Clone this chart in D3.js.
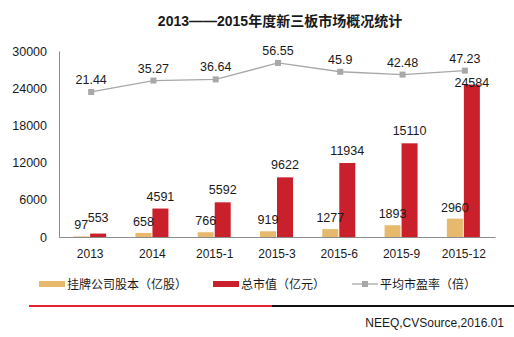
<!DOCTYPE html>
<html>
<head>
  <meta charset="utf-8">
  <title>新三板市场概况</title>
  <style>
    body { margin: 0; background: #fff; }
    text { font-family: "Liberation Sans", Arial, "Noto Sans CJK SC", sans-serif; fill: #1a1a1a; }
  </style>
</head>
<body>
  <svg id="chart"></svg>

  <script src="https://d3js.org/d3.v7.min.js"></script>
  <script>
    // data
    const categories = ['2013', '2014', '2015-1', '2015-3', '2015-6', '2015-9', '2015-12'];
    const shareCapital = [97, 658, 766, 919, 1277, 1893, 2960];       // 挂牌公司股本（亿股）
    const marketValue = [553, 4591, 5592, 9622, 11934, 15110, 24584]; // 总市值（亿元）
    const peRatio = [21.44, 35.27, 36.64, 56.55, 45.9, 42.48, 47.23];  // 平均市盈率（倍）
    const yTicks = [0, 6000, 12000, 18000, 24000, 30000];

    const width = 514, height = 337;
    const beige = '#e6b96c', red = '#c9202b', grey = '#a8a8a8';

    const svg = d3.select('#chart')
      .attr('width', width)
      .attr('height', height);

    // title
    svg.append('text')
      .attr('x', 280)
      .attr('y', 26)
      .attr('text-anchor', 'middle')
      .style('font-size', '14px')
      .style('font-weight', 'bold')
      .text('2013——2015年度新三板市场概况统计');

    // scales
    const x = d3.scaleBand().domain(categories).range([59, 495]);
    const y = d3.scaleLinear().domain([0, 30000]).range([237, 51]);
    // hidden secondary axis for the P/E line
    const y2 = d3.scaleLinear().domain([-154, 71]).range([237, 51]);
    const barW = 16;
    const cx = d => x(d) + x.bandwidth() / 2;

    // y axis
    const yAxis = svg.append('g')
      .attr('transform', 'translate(59,0)')
      .call(d3.axisLeft(y).tickValues(yTicks).tickFormat(d3.format('d')).tickSize(0).tickPadding(12));
    yAxis.select('.domain').attr('stroke', '#8c8c8c');
    yAxis.selectAll('text')
      .style('font-size', '12.5px')
      .attr('fill', '#1a1a1a')
      .attr('font-family', null);

    // x axis
    const xAxis = svg.append('g')
      .attr('transform', 'translate(0,237)')
      .call(d3.axisBottom(x).tickSize(0).tickPadding(12));
    xAxis.select('.domain').attr('stroke', '#8c8c8c');
    xAxis.selectAll('text')
      .style('font-size', '12px')
      .attr('fill', '#1a1a1a')
      .attr('font-family', null);

    // bars
    svg.selectAll('.bar-share')
      .data(shareCapital)
      .enter()
      .append('rect')
      .attr('class', 'bar-share')
      .attr('x', (d, i) => cx(categories[i]) - barW - 1)
      .attr('y', d => y(d))
      .attr('width', barW)
      .attr('height', d => y(0) - y(d))
      .attr('fill', beige);

    svg.selectAll('.bar-value')
      .data(marketValue)
      .enter()
      .append('rect')
      .attr('class', 'bar-value')
      .attr('x', (d, i) => cx(categories[i]))
      .attr('y', d => y(d))
      .attr('width', barW)
      .attr('height', d => y(0) - y(d))
      .attr('fill', red);

    // P/E line
    const line = d3.line()
      .x((d, i) => cx(categories[i]) + 1)
      .y(d => y2(d));

    svg.append('path')
      .datum(peRatio)
      .attr('d', line)
      .attr('fill', 'none')
      .attr('stroke', grey)
      .attr('stroke-width', 1.3);

    svg.selectAll('.pe-marker')
      .data(peRatio)
      .enter()
      .append('rect')
      .attr('class', 'pe-marker')
      .attr('x', (d, i) => cx(categories[i]) + 1 - 3)
      .attr('y', d => y2(d) - 3)
      .attr('width', 6)
      .attr('height', 6)
      .attr('fill', grey);

    // labels
    svg.selectAll('.lbl-pe')
      .data(peRatio)
      .enter()
      .append('text')
      .attr('class', 'lbl-pe')
      .attr('x', (d, i) => cx(categories[i]) + 1)
      .attr('y', d => y2(d) - 8)
      .attr('text-anchor', 'middle')
      .style('font-size', '12.5px')
      .text(d => d);

    svg.selectAll('.lbl-share')
      .data(shareCapital)
      .enter()
      .append('text')
      .attr('class', 'lbl-share')
      .attr('x', (d, i) => cx(categories[i]) - barW / 2 - 1)
      .attr('y', d => Math.min(y(d) - 7, 232))
      .attr('text-anchor', 'middle')
      .style('font-size', '12.5px')
      .text(d => d);

    svg.selectAll('.lbl-value')
      .data(marketValue)
      .enter()
      .append('text')
      .attr('class', 'lbl-value')
      .attr('x', (d, i) => cx(categories[i]) + barW / 2)
      .attr('y', (d, i) => {
        const ly = y(d) - 8;
        // keep clear of the P/E marker when the bar reaches the line
        return Math.abs(ly - y2(peRatio[i])) < 12 ? y(d) + 2 : Math.min(ly, 222);
      })
      .attr('text-anchor', 'middle')
      .style('font-size', '12.5px')
      .text(d => d);

    // legend
    const legend = svg.append('g').attr('transform', 'translate(0,284)');
    legend.append('rect').attr('x', 39).attr('y', -3).attr('width', 26).attr('height', 6).attr('fill', beige);
    legend.append('text').attr('x', 67).attr('y', 4.5).style('font-size', '12px').text('挂牌公司股本（亿股）');
    legend.append('rect').attr('x', 213).attr('y', -3).attr('width', 26).attr('height', 6).attr('fill', red);
    legend.append('text').attr('x', 241).attr('y', 4.5).style('font-size', '12px').text('总市值（亿元）');
    legend.append('line').attr('x1', 352).attr('x2', 378).attr('y1', 0).attr('y2', 0)
      .attr('stroke', grey).attr('stroke-width', 1.3);
    legend.append('rect').attr('x', 362).attr('y', -3).attr('width', 6).attr('height', 6).attr('fill', grey);
    legend.append('text').attr('x', 380).attr('y', 4.5).style('font-size', '12px').text('平均市盈率（倍）');

    // footer rule
    svg.append('line').attr('x1', 29).attr('x2', 272).attr('y1', 306).attr('y2', 306)
      .attr('stroke', '#e8202a').attr('stroke-width', 2);
    svg.append('line').attr('x1', 272).attr('x2', 514).attr('y1', 306).attr('y2', 306)
      .attr('stroke', '#111').attr('stroke-width', 2);

    svg.append('text')
      .attr('x', 504)
      .attr('y', 327)
      .attr('text-anchor', 'end')
      .style('font-size', '12px')
      .text('NEEQ,CVSource,2016.01');
  </script>
</body>
</html>
